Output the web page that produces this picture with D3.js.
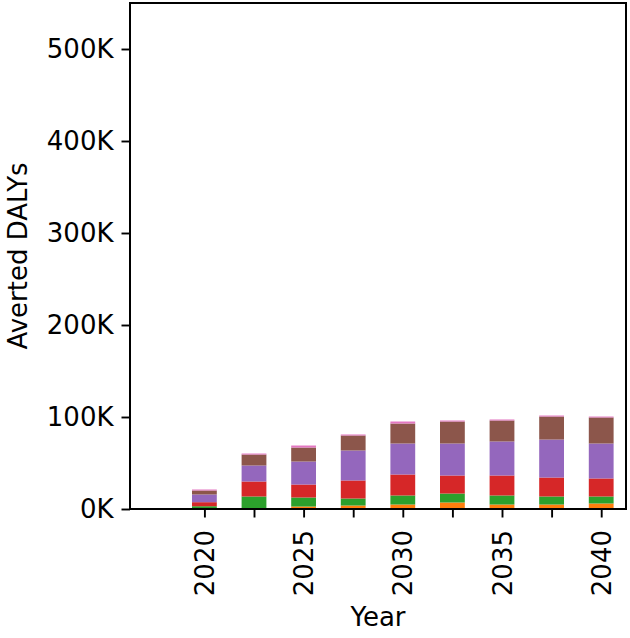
<!DOCTYPE html>
<html>
<head>
<meta charset="utf-8">
<script src="https://cdn.jsdelivr.net/npm/d3@7"></script>
<style>
html,body{margin:0;padding:0;background:#fff;}
svg{display:block;font-family:"DejaVu Sans",sans-serif;}
</style>
</head>
<body>
<svg id="chart" width="630" height="638"></svg>
<script>
// Data
const years = [2020, 2022.5, 2025, 2027.5, 2030, 2032.5, 2035, 2037.5, 2040];
const seriesBlue   = [0,   0,    0,    0,    0,    1.0,  0,    0,    0];
const seriesOrange = [0.3, 1.0,  2.7,  3.8,  4.9,  6.1,  4.9,  4.9,  6.0];
const seriesGreen  = [2.7, 12.6, 9.8,  7.6,  9.8,  9.7,  9.8,  8.7,  7.6];
const seriesRed    = [4.4, 16.3, 14.1, 19.6, 22.8, 19.6, 21.7, 20.6, 19.6];
const seriesPurple = [8.4, 17.4, 25.0, 32.6, 33.7, 34.8, 37.0, 41.3, 38.0];
const seriesBrown  = [4.3, 11.9, 15.2, 16.3, 21.7, 23.9, 22.8, 25.0, 28.3];
const seriesPink   = [1.1, 1.1,  2.2,  1.1,  2.2,  1.1,  1.1,  1.1,  1.0];
const seriesKeys = ["blue","orange","green","red","purple","brown","pink"];
const seriesColors = ["#1f77b4","#ff7f0e","#2ca02c","#d62728","#9467bd","#8c564b","#e377c2"];
const yTicks = [0, 100000, 200000, 300000, 400000, 500000];
const xTickLabels = [2020, 2025, 2030, 2035, 2040];

const seriesValues = [seriesBlue, seriesOrange, seriesGreen, seriesRed, seriesPurple, seriesBrown, seriesPink];
const table = years.map((yr, i) => {
  const row = {year: yr};
  seriesKeys.forEach((k, j) => row[k] = seriesValues[j][i] * 1000);
  return row;
});

const svg = d3.select("#chart");
const mLeft = 130, mRight = 626, mTop = 3, mBottom = 509;

const x = d3.scaleLinear().domain([2016.25, 2041.25]).range([mLeft, mRight]);
const y = d3.scaleLinear().domain([0, 550000]).range([mBottom, mTop]);
const barW = x(2017.5) - x(2016.25);

const stack = d3.stack().keys(seriesKeys)(table);
const color = d3.scaleOrdinal().domain(seriesKeys).range(seriesColors);

svg.append("g").selectAll("g").data(stack).join("g")
  .attr("fill", d => color(d.key))
  .selectAll("rect").data(d => d).join("rect")
  .attr("x", d => x(d.data.year) - barW / 2)
  .attr("width", barW)
  .attr("y", d => y(d[1]))
  .attr("height", d => Math.max(0, y(d[0]) - y(d[1])));

const fs = 26;
// Y axis
const yAxis = svg.append("g").attr("transform", `translate(${mLeft},0)`)
  .call(d3.axisLeft(y).tickValues(yTicks).tickFormat(d => (d / 1000) + "K").tickSize(8.5).tickPadding(8));
yAxis.select(".domain").remove();
yAxis.selectAll(".tick line").attr("stroke", "#000").attr("stroke-width", 1.9);
yAxis.selectAll(".tick text").attr("font-size", fs).attr("fill", "#000").attr("font-family", "DejaVu Sans");

// X axis
const xAxis = svg.append("g").attr("transform", `translate(0,${mBottom})`)
  .call(d3.axisBottom(x).tickValues(years).tickFormat(d => xTickLabels.includes(d) ? String(d) : "").tickSize(8.5).tickPadding(8));
xAxis.select(".domain").remove();
xAxis.selectAll(".tick line").attr("stroke", "#000").attr("stroke-width", 1.9);
xAxis.selectAll(".tick text")
  .attr("font-size", fs).attr("fill", "#000").attr("font-family", "DejaVu Sans")
  .attr("transform", "rotate(-90)")
  .attr("text-anchor", "end")
  .attr("x", -21).attr("y", 0).attr("dy", "0.35em");

// Frame
svg.append("rect").attr("x", mLeft).attr("y", mTop)
  .attr("width", mRight - mLeft).attr("height", mBottom - mTop)
  .attr("fill", "none").attr("stroke", "#000").attr("stroke-width", 2);

// Labels
svg.append("text").attr("x", (mLeft + mRight) / 2).attr("y", 626)
  .attr("text-anchor", "middle").attr("font-size", fs).attr("fill", "#000").text("Year");
svg.append("text").attr("transform", `translate(27,${(mTop + mBottom) / 2}) rotate(-90)`)
  .attr("text-anchor", "middle").attr("font-size", fs).attr("fill", "#000").text("Averted DALYs");
</script>
</body>
</html>
